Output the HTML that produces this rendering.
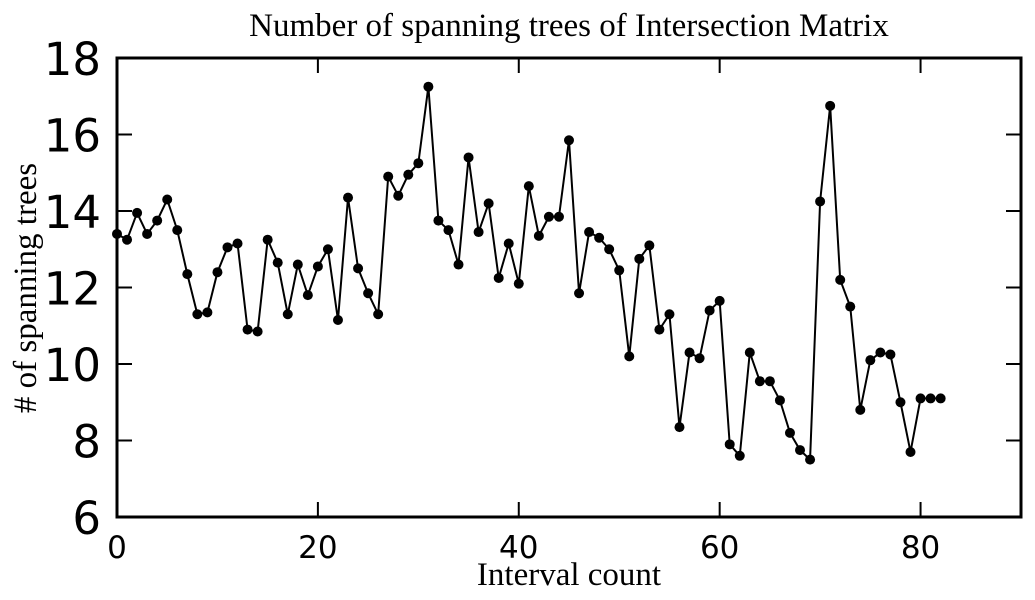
<!DOCTYPE html>
<html><head><meta charset="utf-8"><style>
body{margin:0;background:#fff;width:1035px;height:600px;overflow:hidden}
svg{display:block}
</style></head><body>
<svg id="chart" width="1035" height="600">
<text x="569" y="36" text-anchor="middle" font-family="Liberation Serif, serif" font-size="33">Number of spanning trees of Intersection Matrix</text>
<text x="569" y="585" text-anchor="middle" font-family="Liberation Serif, serif" font-size="33">Interval count</text>
<text transform="translate(36,288) rotate(-90)" text-anchor="middle" font-family="Liberation Serif, serif" font-size="33"># of spanning trees</text>
<g id="ticks"></g>
<g id="series"></g>
<rect x="117" y="58" width="904" height="459" fill="none" stroke="#000" stroke-width="3"/>
</svg>
<script>
const yValues=[13.4,13.25,13.95,13.4,13.75,14.3,13.5,12.35,11.3,11.35,12.4,13.05,13.15,10.9,10.85,13.25,12.65,11.3,12.6,11.8,12.55,13.0,11.15,14.35,12.5,11.85,11.3,14.9,14.4,14.95,15.25,17.25,13.75,13.5,12.6,15.4,13.45,14.2,12.25,13.15,12.1,14.65,13.35,13.85,13.85,15.85,11.85,13.45,13.3,13.0,12.45,10.2,12.75,13.1,10.9,11.3,8.35,10.3,10.15,11.4,11.65,7.9,7.6,10.3,9.55,9.55,9.05,8.2,7.75,7.5,14.25,16.75,12.2,11.5,8.8,10.1,10.3,10.25,9.0,7.7,9.1,9.1,9.1];
const xTicks=[0,20,40,60,80];
const yTicks=[6,8,10,12,14,16,18];
const NS="http://www.w3.org/2000/svg";
const L=117,R=1021,T=58,B=517;
function xs(v){return L+(v-0)/(90-0)*(R-L);}
function ys(v){return B-(v-6)/(18-6)*(B-T);}
const tg=document.getElementById('ticks'),sg=document.getElementById('series');
function mk(tag,attrs,parent){const e=document.createElementNS(NS,tag);for(const k in attrs)e.setAttribute(k,attrs[k]);parent.appendChild(e);return e;}
xTicks.forEach(t=>{
  const x=xs(t);
  const a=mk('line',{x1:x,x2:x,y1:B,y2:B-15,stroke:'#000','stroke-width':2},tg);
  
  
  const b=mk('line',{x1:x,x2:x,y1:T,y2:T+15,stroke:'#000','stroke-width':2},tg);
  
  
  const tx=mk('text',{x:x,y:558,'text-anchor':'middle','font-family':'DejaVu Sans, sans-serif','font-size':31},tg);
  tx.textContent=t;
  
  
});
yTicks.forEach(t=>{
  const y=ys(t);
  const a=mk('line',{x1:L,x2:L+15,y1:y,y2:y,stroke:'#000','stroke-width':2},tg);
  
  
  const b=mk('line',{x1:R,x2:R-15,y1:y,y2:y,stroke:'#000','stroke-width':2},tg);
  
  
  const tx=mk('text',{x:L-16,y:y+17,'text-anchor':'end','font-family':'DejaVu Sans, sans-serif','font-size':45},tg);
  tx.textContent=t;
  
  
});
const pts=yValues.map((v,i)=>xs(i)+','+ys(v)).join(' ');
const pl=mk('polyline',{points:pts,fill:'none',stroke:'#000','stroke-width':2},sg);


yValues.forEach((v,i)=>{
  const c=mk('circle',{cx:xs(i),cy:ys(v),r:5,fill:'#000'},sg);
  
  
});
</script>
</body></html>
